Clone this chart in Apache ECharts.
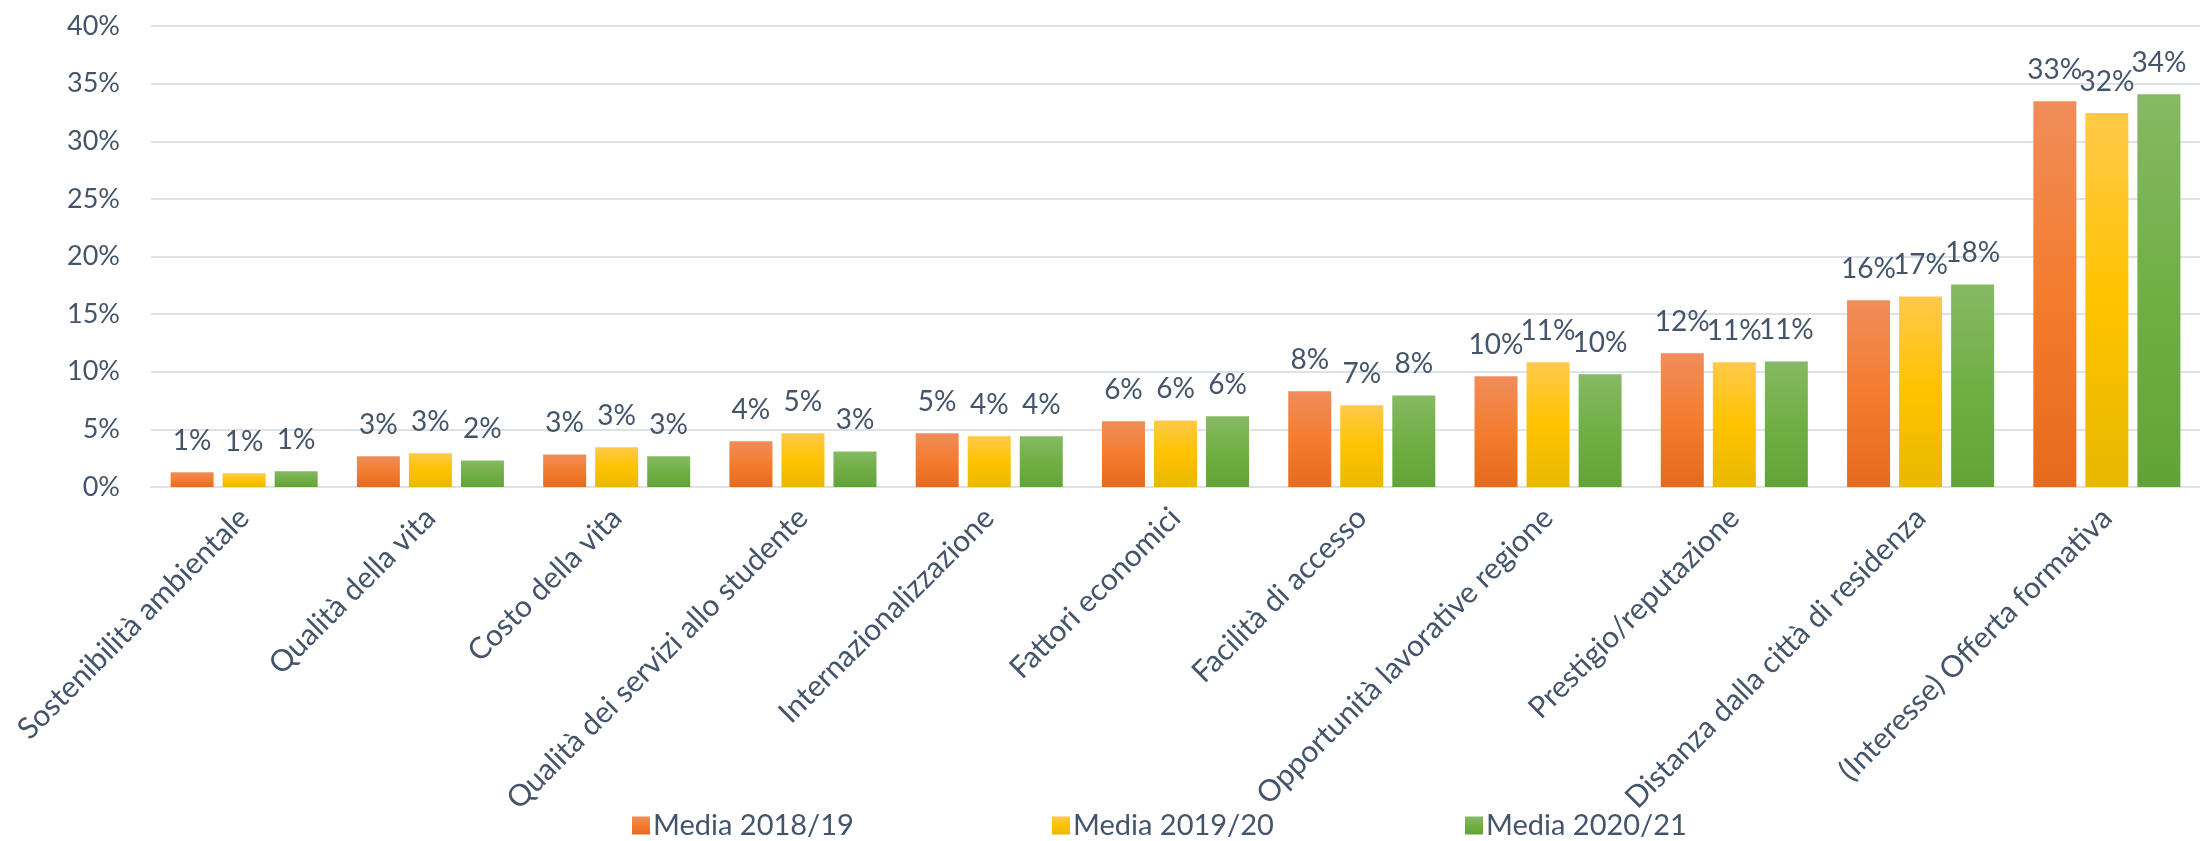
<!DOCTYPE html>
<html>
<head>
<meta charset="utf-8">
<script src="https://cdn.jsdelivr.net/npm/echarts@6/dist/echarts.min.js"></script>
<style>
html,body{margin:0;padding:0;background:#fff;}
#chart{width:2200px;height:841px;}
</style>
</head>
<body>
<div id="chart"></div>
<script>
const categories = [
  'Sostenibilità ambientale',
  'Qualità della vita',
  'Costo della vita',
  'Qualità dei servizi allo studente',
  'Internazionalizzazione',
  'Fattori economici',
  'Facilità di accesso',
  'Opportunità lavorative regione',
  'Prestigio/reputazione',
  'Distanza dalla città di residenza',
  '(Interesse) Offerta formativa'
];
const seriesNames = ['Media 2018/19', 'Media 2019/20', 'Media 2020/21'];
const media2018 = [1.27, 2.66, 2.83, 3.96, 4.66, 5.70, 8.30, 9.60, 11.60, 16.20, 33.47];
const media2019 = [1.19, 2.92, 3.45, 4.66, 4.40, 5.78, 7.09, 10.82, 10.82, 16.54, 32.45];
const media2020 = [1.36, 2.31, 2.66, 3.09, 4.40, 6.13, 7.95, 9.78, 10.90, 17.58, 34.07];
const yTicks = [0, 5, 10, 15, 20, 25, 30, 35, 40];

const textColor = '#44546A';
const fontFamily = 'Lato, "Open Sans", sans-serif';

function grad(top, mid, bottom) {
  return new echarts.graphic.LinearGradient(0, 0, 0, 1, [
    {offset: 0, color: top},
    {offset: 0.5, color: mid},
    {offset: 1, color: bottom}
  ]);
}
const colors = [
  grad('#F08D5A', '#F47C2E', '#E66A1E'),
  grad('#FFC94A', '#FFC300', '#E8B800'),
  grad('#86B964', '#71AF45', '#62A337')
];
const seriesData = [media2018, media2019, media2020];

const chart = echarts.init(document.getElementById('chart'), null, {renderer: 'canvas'});

const series = seriesData.map((d, i) => ({
  name: seriesNames[i],
  type: 'bar',
  data: d,
  barWidth: 43,
  barGap: '21%',
  itemStyle: {color: colors[i]},
  label: {
    show: true,
    position: 'top',
    distance: 17,
    color: textColor,
    fontFamily: fontFamily,
    fontSize: 28,
    formatter: p => Math.round(p.value) + '%'
  }
}));

const legendLefts = [627, 1047, 1460];
const legends = seriesNames.map((n, i) => ({
  data: [n],
  left: legendLefts[i],
  top: 806,
  itemWidth: 18,
  itemHeight: 18,
  itemGap: 8,
  icon: 'rect',
  textStyle: {color: textColor, fontFamily: fontFamily, fontSize: 29, padding: [0, 0, 0, -2]}
}));

chart.setOption({
  animation: false,
  backgroundColor: '#ffffff',
  grid: {left: 151, right: -3, top: 26, bottom: 354, containLabel: false},
  legend: legends,
  xAxis: {
    type: 'category',
    data: categories,
    axisLine: {show: true, lineStyle: {color: '#DDE2EA', width: 2}},
    axisTick: {show: false},
    axisLabel: {
      interval: 0,
      rotate: 45,
      margin: 26,
      color: textColor,
      fontFamily: fontFamily,
      fontSize: 30
    }
  },
  yAxis: {
    type: 'value',
    min: yTicks[0],
    max: yTicks[yTicks.length - 1],
    interval: 5,
    axisLine: {show: false},
    axisTick: {show: false},
    splitLine: {lineStyle: {color: '#DDE2EA', width: 2}},
    axisLabel: {
      margin: 31,
      color: textColor,
      fontFamily: fontFamily,
      fontSize: 27,
      formatter: '{value}%'
    }
  },
  series: series
});
</script>
</body>
</html>
